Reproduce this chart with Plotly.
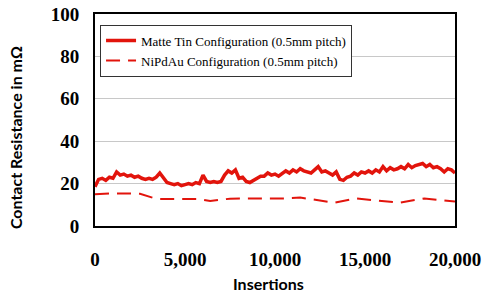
import plotly.graph_objects as go

# Matte Tin Configuration (0.5mm pitch), sampled every 200 insertions
tin_x = list(range(0, 20001, 200))
tin_y = [18.5, 22, 22.5, 21.5, 23, 22.5, 25.5, 24, 24.5, 23.5,
         24, 23, 23.5, 22.5, 22, 22.5, 22, 23, 25, 23,
         20.5, 20, 19.5, 20, 19, 19.5, 20, 19.5, 20.5, 20,
         24, 21, 20.5, 21, 20.5, 21, 24, 26, 25, 26.5,
         22.5, 23, 21, 20.5, 21.5, 22.5, 23.5, 23.5, 25, 24,
         24.5, 23.5, 25, 26, 25, 26.5, 25.5, 27, 26, 25.5,
         25, 26.5, 28, 25.5, 26, 25, 24, 25.5, 22, 21.5,
         23, 23.5, 25, 24, 25.5, 25, 26, 25, 26.5, 25.5,
         28, 26, 27.5, 26.5, 27, 28, 27, 29, 27.5, 28.5,
         29, 29.5, 28, 29, 27.5, 28, 27, 25.5, 27, 26.5, 25]

# NiPdAu Configuration (0.5mm pitch)
ni_x = [0, 1000, 2000, 2500, 3400, 4500, 5800, 6400, 7500, 9000,
        10500, 11400, 12300, 13300, 14500, 15500, 16900, 18300, 19700, 20000]
ni_y = [15, 15.4, 15.3, 15.2, 12.8, 12.8, 12.7, 11.8, 12.9, 13,
        13, 13.4, 12.3, 11, 13, 12.3, 11, 13, 11.5, 11.5]

x_title = "Insertions"
y_title = "Contact Resistance in mΩ"

red = "#e2140c"
serif = "Liberation Serif, Times New Roman, serif"

fig = go.Figure()
fig.add_trace(go.Scatter(x=tin_x, y=tin_y, mode="lines",
                         name="Matte Tin Configuration (0.5mm pitch)",
                         line=dict(color=red, width=3.5)))
fig.add_trace(go.Scatter(x=ni_x, y=ni_y, mode="lines",
                         name="NiPdAu Configuration (0.5mm pitch)",
                         line=dict(color=red, width=2, dash="14px,8px")))

tickfont = dict(family=serif, size=19, color="black", weight="bold")
titlefont = dict(family="Lato", size=16, color="black", weight="bold")

fig.update_layout(
    width=484, height=295,
    margin=dict(l=95, r=29, t=14, b=69, autoexpand=False),
    paper_bgcolor="white", plot_bgcolor="white",
    showlegend=True,
    legend=dict(x=0.014, y=0.95, xanchor="left", yanchor="top",
                bgcolor="white", bordercolor="#333333", borderwidth=1,
                font=dict(family=serif, size=13, color="black"),
                tracegroupgap=0, itemwidth=30),
    xaxis=dict(range=[0, 20000], dtick=5000, tickformat=",",
               showgrid=False, zeroline=False, automargin=False,
               showline=True, linecolor="black", linewidth=2, mirror=True,
               ticks="", tickfont=tickfont, ticklabelstandoff=15,
               ticklabeloverflow="allow"),
    yaxis=dict(range=[0, 100], dtick=20, automargin=False,
               showgrid=True, gridcolor="#c8c8c8", gridwidth=1, zeroline=False,
               showline=True, linecolor="black", linewidth=2, mirror=True,
               ticks="", tickfont=tickfont, ticklabelstandoff=10,
               ticklabeloverflow="allow"),
    annotations=[
        dict(text=x_title, xref="paper", yref="paper", x=0.483, y=-0.272,
             xanchor="center", yanchor="middle", showarrow=False, font=titlefont),
        dict(text=y_title, xref="paper", yref="paper", x=-0.222, y=0.415,
             xanchor="center", yanchor="middle", showarrow=False, font=titlefont,
             textangle=-90),
    ],
)

# remove the default 8px page margin so the figure fills the window exactly
fig.write_html("out.html",
               config={"displayModeBar": False},
               post_script="document.body.style.margin='0';document.body.style.overflow='hidden';")
